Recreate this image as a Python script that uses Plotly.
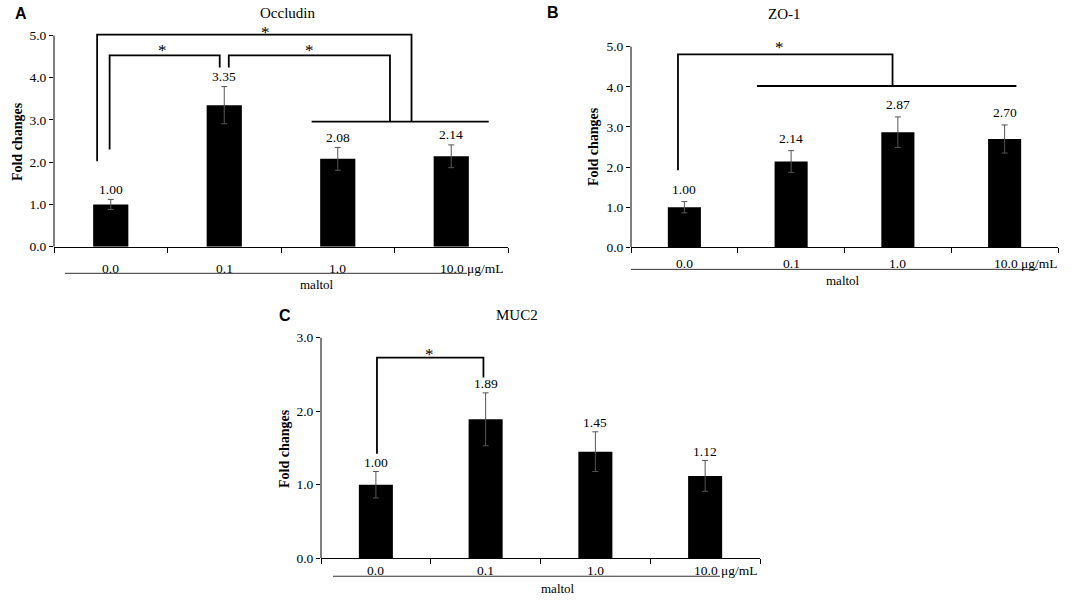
import plotly.graph_objects as go

# ---------------- data ----------------
categories = ["0.0", "0.1", "1.0", "10.0"]
unit_label = "μg/mL"
group_label = "maltol"
y_title = "Fold changes"

occludin = [1.00, 3.35, 2.08, 2.14]
occludin_err = [0.12, 0.44, 0.27, 0.27]
zo1 = [1.00, 2.14, 2.87, 2.70]
zo1_err = [0.14, 0.27, 0.38, 0.35]
muc2 = [1.00, 1.89, 1.45, 1.12]
muc2_err = [0.18, 0.36, 0.27, 0.21]

yticks_ab = [0, 1, 2, 3, 4, 5]
yticks_c = [0, 1, 2, 3]

W, H = 1084, 602
SERIF = "Liberation Serif"
SANS = "Liberation Sans"
FS = 13.5


def px(x):
    return x / W


def py(y):
    return 1 - y / H


# panel geometry (pixels): x_left, x_right, y_zero_px, px_per_unit, y_range_top
panels = [
    dict(name="Occludin", letter="A", vals=occludin, errs=occludin_err, ticks=yticks_ab,
         xl=54, xr=508, y0=250.0, ppu=42.8, ytop=5.3, label_shift=10,
         letter_xy=(13, 14), title_xy=(258, 13), ytitle_xy=(17, 144),
         xlab_y=272, under=(65, 467, 277), maltol_xy=(298, 288)),
    dict(name="ZO-1", letter="B", vals=zo1, errs=zo1_err, ticks=yticks_ab,
         xl=631, xr=1058, y0=250.7, ppu=40.68, ytop=5.3, label_shift=12,
         letter_xy=(553, 13), title_xy=(803, 14), ytitle_xy=(593, 149),
         xlab_y=267, under=(631, 1038, 273), maltol_xy=(862, 284)),
    dict(name="MUC2", letter="C", vals=muc2, errs=muc2_err, ticks=yticks_c,
         xl=321, xr=760, y0=565.7, ppu=74.47, ytop=3.2, label_shift=9,
         letter_xy=(277, 320), title_xy=(517, 319), ytitle_xy=(285, 455),
         xlab_y=578, under=(333, 720, 584), maltol_xy=(558, 596)),
]

# significance brackets: (x_left, y_left_bottom, y_top, x_right, y_right_bottom)
brackets = [
    [(-0.12, 2.02, 5.02, 2.65, 2.96), (-0.01, 2.30, 4.53, 0.96, 4.24), (1.04, 4.24, 4.53, 2.46, 2.96)],
    [(-0.06, 1.92, 4.81, 1.95, 4.02)],
    [(0.01, 1.42, 2.73, 0.98, 2.46)],
]
# group lines: (x_start, x_end, y)
group_lines = [[(1.77, 3.33, 2.96)], [(0.68, 3.11, 4.02)], []]
# stars: (x, y)
stars = [[(0.46, 4.71), (1.75, 4.71), (1.36, 5.14)], [(0.89, 5.06)], [(0.49, 2.81)]]

fig = go.Figure()
shapes = []
annotations = []
xpos = list(range(len(categories)))

for i, p in enumerate(panels):
    sfx = "" if i == 0 else str(i + 1)
    xa, ya = "x" + sfx, "y" + sfx
    fig.add_trace(go.Bar(
        x=xpos, y=p["vals"], width=0.31, marker=dict(color="black", line=dict(width=0)),
        error_y=dict(type="data", array=p["errs"], color="#555555", thickness=1, width=3),
        xaxis=xa, yaxis=ya, showlegend=False, hoverinfo="skip",
    ))
    ybot = 1 - p["y0"] / H
    ytop_px = p["y0"] - p["ytop"] * p["ppu"]
    ytop = 1 - ytop_px / H
    fig.layout["xaxis" + sfx] = dict(
        domain=[px(p["xl"]), px(p["xr"])], range=[-0.5, len(categories) - 0.5],
        anchor=ya, showline=True, linecolor="black", linewidth=1,
        tickvals=[k - 0.5 for k in range(len(categories) + 1)], showticklabels=False,
        ticks="outside", ticklen=5, tickcolor="black", tickwidth=1,
        showgrid=False, zeroline=False, fixedrange=True,
    )
    fig.layout["yaxis" + sfx] = dict(
        domain=[ybot, ytop], range=[0, p["ytop"]], anchor=xa,
        showline=False, tickvals=p["ticks"], ticktext=[f"{t:.1f}" for t in p["ticks"]],
        ticks="outside", ticklen=4, tickcolor="black", tickwidth=1,
        tickfont=dict(family=SERIF, size=FS, color="black"),
        showgrid=False, zeroline=False, fixedrange=True,
    )
    # y axis line up to last tick
    shapes.append(dict(type="line", xref=xa + " domain", yref=ya, x0=0, x1=0,
                       y0=0, y1=p["ticks"][-1], line=dict(color="black", width=1)))
    # value labels
    for k, (v, e) in enumerate(zip(p["vals"], p["errs"])):
        annotations.append(dict(x=k, y=v + e, xref=xa, yref=ya, text=f"{v:.2f}",
                                showarrow=False, yanchor="middle", yshift=p["label_shift"],
                                font=dict(family=SERIF, size=FS, color="black")))
    # x category labels
    for k, c in enumerate(categories):
        if k == len(categories) - 1:
            annotations.append(dict(x=k, y=py(p["xlab_y"]), xref=xa, yref="paper",
                                    text=f"{c} {unit_label}", showarrow=False,
                                    xanchor="left", xshift=-13, yanchor="middle",
                                    font=dict(family=SERIF, size=FS, color="black")))
        else:
            annotations.append(dict(x=k, y=py(p["xlab_y"]), xref=xa, yref="paper",
                                    text=c, showarrow=False, yanchor="middle",
                                    font=dict(family=SERIF, size=FS, color="black")))
    # underline + maltol
    ux0, ux1, uy = p["under"]
    shapes.append(dict(type="line", xref="paper", yref="paper", x0=px(ux0), x1=px(ux1),
                       y0=py(uy), y1=py(uy), line=dict(color="#333333", width=1)))
    annotations.append(dict(x=px(p["maltol_xy"][0]), y=py(p["maltol_xy"][1]), xref="paper", yref="paper",
                            text=group_label, showarrow=False, yanchor="middle",
                            font=dict(family=SERIF, size=13, color="black")))
    # titles
    annotations.append(dict(x=px(p["title_xy"][0]), y=py(p["title_xy"][1]), xref="paper", yref="paper",
                            text=p["name"], showarrow=False, yanchor="middle",
                            font=dict(family=SERIF, size=15, color="black")))
    annotations.append(dict(x=px(p["letter_xy"][0]), y=py(p["letter_xy"][1]), xref="paper", yref="paper",
                            text=f"<b>{p['letter']}</b>", showarrow=False, yanchor="middle",
                            font=dict(family=SANS, size=16, color="black")))
    annotations.append(dict(x=px(p["ytitle_xy"][0]), y=py(p["ytitle_xy"][1]), xref="paper", yref="paper",
                            text=f"<b>{y_title}</b>", showarrow=False, textangle=-90,
                            xanchor="center", yanchor="middle",
                            font=dict(family=SERIF, size=14, color="black")))
    # brackets
    for (bxl, byl, byt, bxr, byr) in brackets[i]:
        shapes.append(dict(type="path", xref=xa, yref=ya,
                           path=f"M {bxl},{byl} L {bxl},{byt} L {bxr},{byt} L {bxr},{byr}",
                           line=dict(color="black", width=1.8)))
    for (gx0, gx1, gy) in group_lines[i]:
        shapes.append(dict(type="line", xref=xa, yref=ya, x0=gx0, x1=gx1, y0=gy, y1=gy,
                           line=dict(color="black", width=1.8)))
    for (sx, sy) in stars[i]:
        annotations.append(dict(x=sx, y=sy, xref=xa, yref=ya, text="*", showarrow=False,
                                yanchor="middle", yshift=-3,
                                font=dict(family=SERIF, size=17, color="black")))

fig.update_layout(
    width=W, height=H, margin=dict(l=0, r=0, t=0, b=0),
    paper_bgcolor="white", plot_bgcolor="white",
    shapes=shapes, annotations=annotations, showlegend=False,
    font=dict(family=SERIF, color="black"),
)

fig.write_html("out.html", config={"displayModeBar": False},
               post_script="document.body.style.margin='0';")
